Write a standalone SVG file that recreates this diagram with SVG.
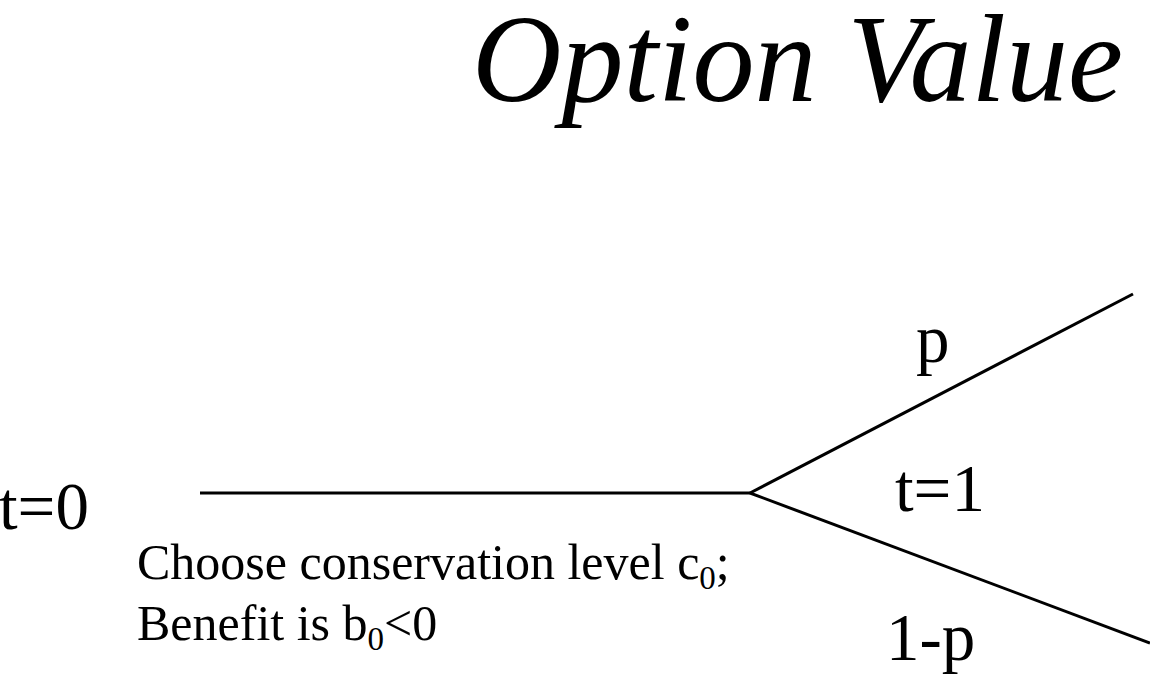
<svg xmlns="http://www.w3.org/2000/svg" width="1150" height="681" viewBox="0 0 1150 681">
<style>
.t{font-family:"Liberation Serif","Times New Roman",serif;fill:#000}
.title{font-style:italic;font-size:124px}
.lbl{font-size:67px}
.note{font-size:50px}
.sub{font-size:33px;fill:#000}
.edge{stroke:#000;stroke-width:3;fill:none;stroke-linecap:butt}
</style>
<rect width="1150" height="681" fill="#fff"/>
<g id="title"><text class="t title" x="1123" y="101" text-anchor="end">Option Value</text></g>
<g id="connectors">
<line class="edge" x1="200" y1="493" x2="750" y2="493"/>
<line class="edge" x1="750" y1="493" x2="1133" y2="294"/>
<line class="edge" x1="750" y1="493" x2="1150" y2="643"/>
</g>
<g id="node-t0"><text class="t lbl" x="-1" y="529">t=0</text></g>
<g id="node-decision"><text class="t note" x="137" y="579">Choose conservation level c<tspan class="sub" dy="10">0</tspan><tspan dy="-10">;</tspan></text>
<text class="t note" x="137" y="640">Benefit is b<tspan class="sub" dy="10">0</tspan><tspan dy="-10">&lt;0</tspan></text></g>
<g id="label-p"><text class="t lbl" x="916" y="362">p</text></g>
<g id="node-t1"><text class="t lbl" x="895" y="511">t=1</text></g>
<g id="label-1mp"><text class="t lbl" x="886" y="660">1-p</text></g>
</svg>
